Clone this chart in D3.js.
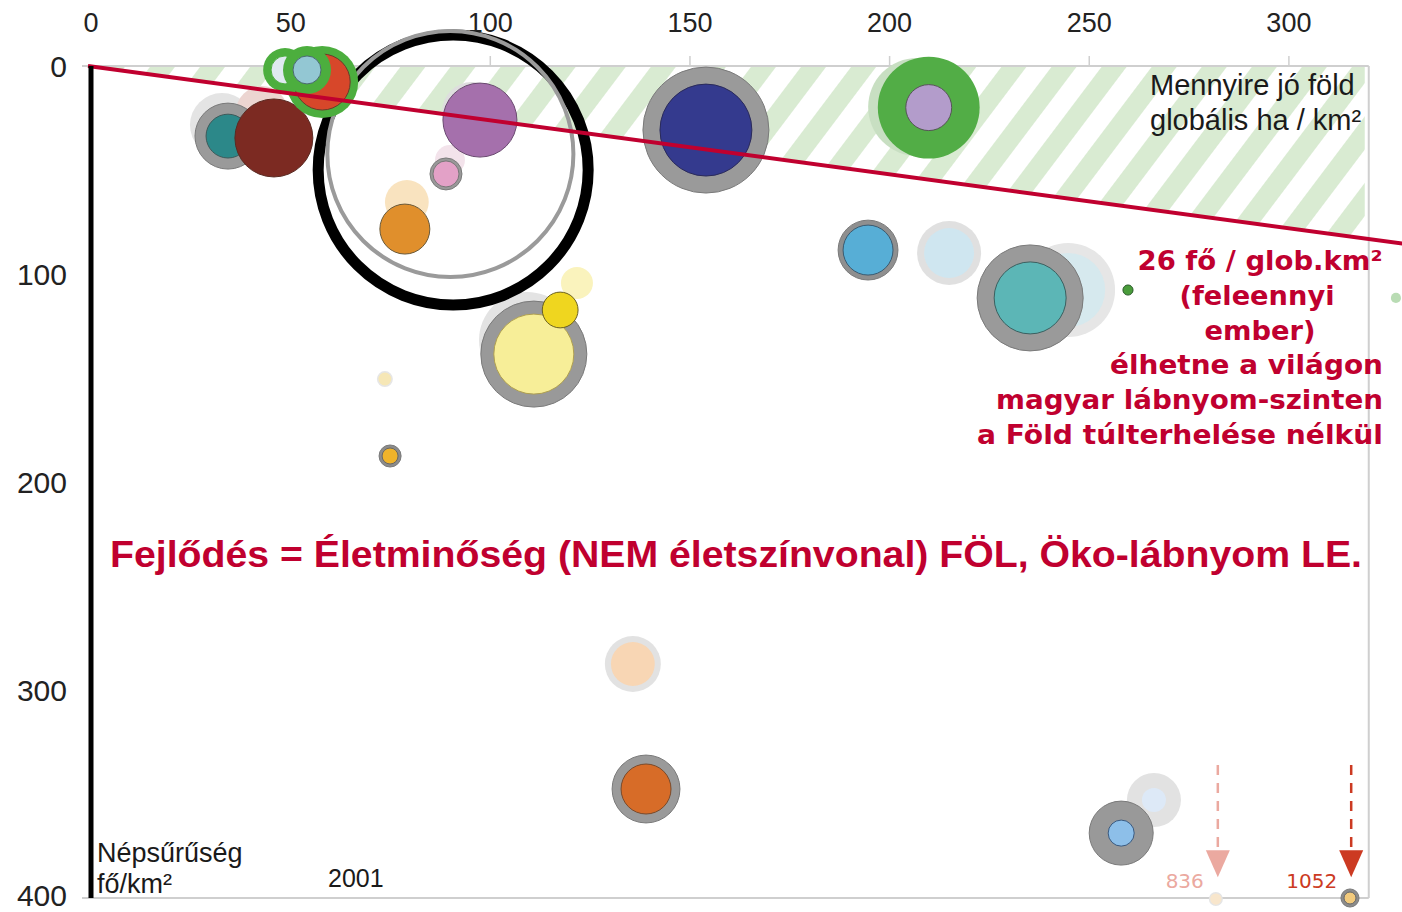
<!DOCTYPE html>
<html>
<head>
<meta charset="utf-8">
<script src="https://cdn.jsdelivr.net/npm/d3@7"></script>
<style>
body{margin:0;background:#fff;}
svg{display:block;}
text{font-family:"Liberation Sans",Arial,sans-serif;}
</style>
</head>
<body>
<div id="chart"></div>
<script>
var WIDTH=1402,
	HEIGHT=912;

// tengelyek
var xTicks=[0,50,100,150,200,250,300],
	yTicks=[0,100,200,300,400];

// lábnyom-határ: 26 fő / glob.km2 -> y = 0.26 * x
var hatarMeredekseg=0.26;

// halvány (korábbi évek) buborékok
var halvanyX=[32.8,42.8,95.4,89.9,79.1,109.2,121.7,206.9,244.7],
	halvanyY=[28.4,22.1,22.1,45.2,65.4,131.7,104.3,19.7,107.7],
	halvanyKulso=[64,42,56,14,30,144,16,150,138],
	halvanyBelso=[0,0,0,0,0,0,0,0,86];
var halvanySzin=["#e4e4e4","#ecd5d1","#dedede","#f3e3eb","#f9e3bf","#e3e3e3","#faf3bd","#c8dfc2","#e6e6e6"],
	halvanyBelsoSzin=[null,null,null,null,null,null,null,null,"#d6e9ee"];

// országok 2001: x = biokapacitás (glob. ha/km2), y = népsűrűség (fő/km2)
var orszagX=[34.3,45.8,57.9,48.6,54.1,97.4,88.9,78.6,110.9,117.5,73.6,74.9,154,209.8,194.6,214.9,235.2,259.7,326.8,135.7,139,266.2,258,281.7,315.3],
	orszagY=[33.7,34.6,7.7,1.9,1.9,26,51.9,78.4,138.5,117.3,150.5,187.5,30.8,20,88.5,89.9,111.5,107.7,111.5,287.5,347.6,352.9,368.8,400.5,400],
	kulsoMeret=[68,95,81,30,36,85.6,16,39,175.6,20,4,7.6,248,162,56,64,175.6,1.6,1.6,49,72,45.6,64,3.1,5.1],
	belsoMeret=[30,95,49,12.25,12.25,85.6,10.6,39,100,20,2.6,4,132,33,39,39,81,1.6,1.6,30,39,9,10.6,2,2.25];
var gyuruSzin=["#9a9a9a",null,"#4cae3e","#4cae3e","#4cae3e",null,"#999999",null,"#999999",null,"#e6e6e6","#8c8c8c","#9a9a9a","#52ad46","#8f8f8f","#e0e0e0","#9a9a9a",null,null,"#e2e2e2","#9a9a9a","#e2e2e2","#999999","#e5e5e5","#8c8c8c"],
	belsoSzin=["#2c8889","#7c2a22","#d7472a","#dfeaf0","#93c7d3","#a570ac","#e3a1c7","#e08f2c","#f7ee98","#efd61f","#f6e7b6","#efb32a","#343a8e","#b39ccb","#57aed6","#cfe6f0","#5cb6b6","#4a9c3b","#b9dcb4","#f8d6b4","#d76c28","#dde9f7","#8dbfe9","#f8e6cc","#f2ca7c"],
	keretSzin=["#3c5a5a","#5a2a22","#6a3a2a","#4cae3e","#4a6a70","#6a4a70","#777","#6a5a3a","#b0a050","#6a6020",null,"#666","#2a2a5a","#555","#3a5a70",null,"#3a6060","#2a5a2a",null,null,"#7a4a2a",null,"#3a5a80",null,"#666"];

// Magyarország kiemelése (fekete és szürke gyűrű)
var kiemelX=[90.7,90],
	kiemelY=[50,42.3],
	kiemelMeret=[1139,946];

// kilógó értékek
var nyilX=[282.2,315.6],
	nyilErtek=[836,1052];

var x=d3.scaleLinear().domain([0,320]).range([91,91+320*3.993]),
	y=d3.scaleLinear().domain([0,400]).range([66,898]),
	r=d3.scaleSqrt().domain([0,400]).range([0,80]);

var svg=d3.select("#chart")
			.append("svg")
				.attr("width",WIDTH)
				.attr("height",HEIGHT);

var defs=svg.append("defs");
var pat=defs.append("pattern")
	.attr("id","csik")
	.attr("patternUnits","userSpaceOnUse")
	.attr("width",40)
	.attr("height",40)
	.attr("patternTransform","rotate(37)");
pat.append("rect")
	.attr("width",20)
	.attr("height",40)
	.attr("fill","#d9ebd2");

// vonalkázott háromszög a határ fölött
var xMax=x.domain()[1];
svg.append("path")
	.attr("d","M"+x(0)+","+y(0)+"L"+(x(xMax)-4)+","+y(0)+"L"+(x(xMax)-4)+","+y(hatarMeredekseg*xMax)+"Z")
	.attr("fill","url(#csik)");

// keret
var keret=svg.append("g").attr("stroke","#cfcfcf").attr("stroke-width",2).attr("fill","none");
keret.append("line").attr("x1",82).attr("x2",x(xMax)).attr("y1",y(0)).attr("y2",y(0));
keret.append("line").attr("x1",82).attr("x2",x(xMax)).attr("y1",y(400)).attr("y2",y(400));
keret.append("line").attr("x1",x(xMax)).attr("x2",x(xMax)).attr("y1",y(0)).attr("y2",y(400));

// felső tengely
var xAxis=svg.append("g");
xAxis.selectAll("line")
	.data(xTicks.filter(function(d){return d>0;}))
	.enter()
		.append("line")
			.attr("x1",function(d){return x(d);})
			.attr("x2",function(d){return x(d);})
			.attr("y1",y(0)-10)
			.attr("y2",y(0))
			.attr("stroke","#cfcfcf")
			.attr("stroke-width",1.5);
xAxis.selectAll("text")
	.data(xTicks)
	.enter()
		.append("text")
			.attr("x",function(d){return x(d);})
			.attr("y",32)
			.attr("text-anchor","middle")
			.attr("font-size",27)
			.attr("fill","#222")
			.text(function(d){return d;});

// bal tengely
svg.append("g").selectAll("text")
	.data(yTicks)
	.enter()
		.append("text")
			.attr("x",67)
			.attr("y",function(d){return Math.min(y(d),895);})
			.attr("dy","0.36em")
			.attr("text-anchor","end")
			.attr("font-size",30)
			.attr("fill","#222")
			.text(function(d){return d;});

// halvány buborékok
var halvany=svg.append("g");
halvanyX.forEach(function(d,i){
	halvany.append("circle")
		.attr("cx",x(d))
		.attr("cy",y(halvanyY[i]))
		.attr("r",r(halvanyKulso[i]))
		.attr("fill",halvanySzin[i]);
	if(halvanyBelso[i]>0){
		halvany.append("circle")
			.attr("cx",x(d))
			.attr("cy",y(halvanyY[i]))
			.attr("r",r(halvanyBelso[i]))
			.attr("fill",halvanyBelsoSzin[i]);
	}
});

// kiemelő körök
svg.append("g").selectAll("circle")
	.data(kiemelX)
	.enter()
		.append("circle")
			.attr("cx",function(d){return x(d);})
			.attr("cy",function(d,i){return y(kiemelY[i]);})
			.attr("r",function(d,i){return r(kiemelMeret[i]);})
			.attr("fill","none")
			.attr("stroke",function(d,i){return i==0?"#000":"#9a9a9a";})
			.attr("stroke-width",function(d,i){return i==0?11:4;});

// országok
var orszagok=svg.append("g");
orszagX.forEach(function(d,i){
	var cx=x(d),
		cy=y(orszagY[i]);
	if(gyuruSzin[i]){
		orszagok.append("circle")
			.attr("cx",cx)
			.attr("cy",cy)
			.attr("r",r(kulsoMeret[i]))
			.attr("fill",gyuruSzin[i])
			.attr("stroke",gyuruSzin[i]=="#4cae3e"||gyuruSzin[i]=="#52ad46"?"none":(keretSzin[i]?"#7a7a7a":"none"))
			.attr("stroke-width",1);
	}
	orszagok.append("circle")
		.attr("cx",cx)
		.attr("cy",cy)
		.attr("r",r(belsoMeret[i]))
		.attr("fill",belsoSzin[i])
		.attr("stroke",keretSzin[i]||"none")
		.attr("stroke-width",1);
});

// határvonal
svg.append("line")
	.attr("x1",x(0)-3)
	.attr("y1",y(0))
	.attr("x2",x(340))
	.attr("y2",y(hatarMeredekseg*340))
	.attr("stroke","#c0002f")
	.attr("stroke-width",4);

// függőleges fekete tengely
svg.append("line")
	.attr("x1",x(0))
	.attr("x2",x(0))
	.attr("y1",y(0))
	.attr("y2",y(400))
	.attr("stroke","#000")
	.attr("stroke-width",5);

// nyilak a kilógó értékekhez
var nyilSzin=["#eba9a0","#cc3a22"];
nyilX.forEach(function(d,i){
	var nx=x(d);
	svg.append("line")
		.attr("x1",nx).attr("x2",nx)
		.attr("y1",y(336)).attr("y2",y(377))
		.attr("stroke",nyilSzin[i])
		.attr("stroke-width",2.5)
		.attr("stroke-dasharray","10,8");
	svg.append("path")
		.attr("d","M"+(nx-12)+","+y(377)+"L"+(nx+12)+","+y(377)+"L"+nx+","+y(390)+"Z")
		.attr("fill",nyilSzin[i]);
	svg.append("text")
		.attr("x",nx-14)
		.attr("y",888)
		.attr("text-anchor","end")
		.style("font-family","'DejaVu Sans',Verdana,sans-serif")
		.attr("font-size",20)
		.attr("fill",nyilSzin[i])
		.text(nyilErtek[i]);
});

// feliratok
var felirat=svg.append("g").attr("fill","#1a1a1a");
felirat.append("text").attr("x",1150).attr("y",95).attr("font-size",29).text("Mennyire jó föld");
felirat.append("text").attr("x",1150).attr("y",130).attr("font-size",29).text("globális ha / km²");
felirat.append("text").attr("x",97).attr("y",862).attr("font-size",27).text("Népsűrűség");
felirat.append("text").attr("x",97).attr("y",893).attr("font-size",27).text("fő/km²");
felirat.append("text").attr("x",328).attr("y",887).attr("font-size",25).text("2001");

var piros="#c0002f";
var sorok=[
	{t:"26 fő / glob.km²",x:1260,a:"middle",w:245},
	{t:"(feleennyi",x:1257,a:"middle",w:155},
	{t:"ember)",x:1260,a:"middle",w:111},
	{t:"élhetne a világon",x:1383,a:"end",w:273},
	{t:"magyar lábnyom-szinten",x:1383,a:"end",w:387},
	{t:"a Föld túlterhelése nélkül",x:1383,a:"end",w:406}
];
svg.append("g").selectAll("text")
	.data(sorok)
	.enter()
		.append("text")
			.attr("x",function(d){return d.x;})
			.attr("y",function(d,i){return 270+i*34.8;})
			.attr("text-anchor",function(d){return d.a;})
			.style("font-family","'DejaVu Sans',Verdana,sans-serif")
			.attr("font-weight","bold")
			.attr("font-size",27)
			.attr("textLength",function(d){return d.w;})
			.attr("lengthAdjust","spacingAndGlyphs")
			.attr("fill",piros)
			.text(function(d){return d.t;});

svg.append("text")
	.attr("x",110)
	.attr("y",567)
	.attr("font-weight","bold")
	.attr("font-size",36)
	.attr("textLength",1252)
	.attr("lengthAdjust","spacingAndGlyphs")
	.attr("fill",piros)
	.text("Fejlődés = Életminőség (NEM életszínvonal) FÖL, Öko-lábnyom LE.");
</script>
</body>
</html>
